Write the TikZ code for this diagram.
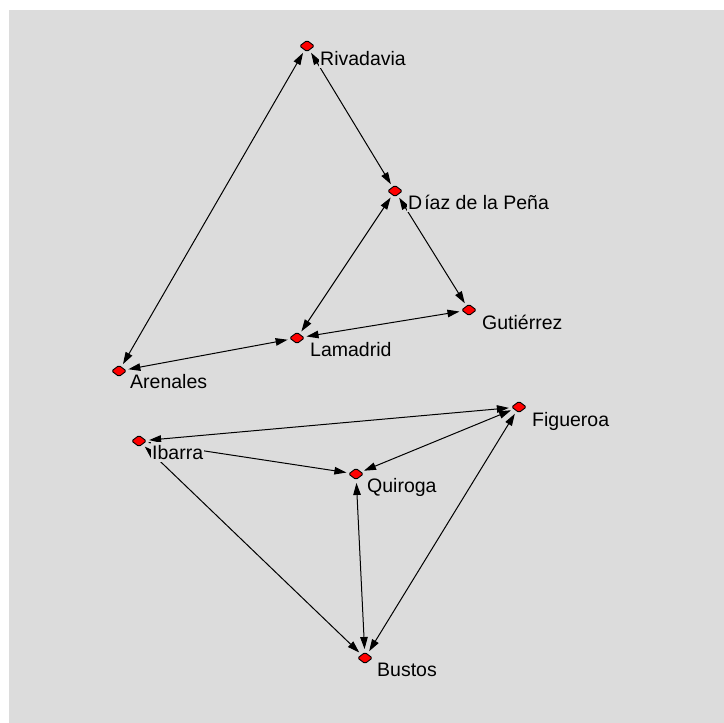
\documentclass[tikz,border=0pt]{standalone}
\usepackage{fontspec}
\setmainfont{Liberation Sans}
\usetikzlibrary{arrows.meta,shapes.geometric}
\definecolor{canvas}{HTML}{DCDCDC}
\definecolor{dotred}{HTML}{FF0000}
\pgfdeclarelayer{ties}
\pgfdeclarelayer{tags}
\pgfsetlayers{ties,tags,main}
\begin{document}
\begin{tikzpicture}[x=1pt,y=-1pt,
  actor/.style={diamond, draw=black, line width=0.9pt, fill=dotred,
    minimum width=15pt, minimum height=11.5pt, inner sep=0pt, rounded corners=1.5pt},
  tag/.style={anchor=base west, fill=canvas, inner xsep=1pt, inner ysep=3pt,
    font=\fontsize{19.5}{23}\selectfont},
  tie/.style={draw=black, line width=1pt, shorten >=3pt, shorten <=3pt},
  head/.tip={Triangle[length=12pt,width=7.5pt]},
  one/.style={tie, -head},
  both/.style={tie, head-head},
]
\useasboundingbox (0,0) rectangle (724,723);
\begin{pgfonlayer}{ties}
  \fill[white] (0,0) rectangle (724,723);
  \fill[canvas] (9,10) rectangle (724,723);
\end{pgfonlayer}

% actors
\node[actor] (riv) at (307,46)  {};
\node[actor] (dia) at (395,191) {};
\node[actor] (gut) at (469,310) {};
\node[actor] (lam) at (297,338) {};
\node[actor] (are) at (119,371) {};
\node[actor] (fig) at (519,407) {};
\node[actor] (iba) at (139,441) {};
\node[actor] (qui) at (356,474) {};
\node[actor] (bus) at (365,658) {};

% ties between actors
\begin{pgfonlayer}{ties}
  \draw[both] (riv) -- (are);
  \draw[both] (riv) -- (dia);
  \draw[both] (dia) -- (gut);
  \draw[both] (dia) -- (lam);
  \draw[both] (gut) -- (lam);
  \draw[both] (lam) -- (are);
  \draw[both] (iba) -- (fig);
  \draw[one]  (iba) -- (qui);
  \draw[both] (iba) -- (bus);
  \draw[both] (fig) -- (qui);
  \draw[both] (qui) -- (bus);
  \draw[both] (fig) -- (bus);
\end{pgfonlayer}

% actor names
\begin{pgfonlayer}{tags}
  \node[tag] (rivT) at ([shift={(12,19)}]riv.center) {Rivadavia};
  \node[tag] (diaT) at ([shift={(12,18)}]dia.center) {D\kern2pt íaz de la Peña};
  \node[tag] (gutT) at ([shift={(12,19)}]gut.center) {Gutiérrez};
  \node[tag] (lamT) at ([shift={(12,18)}]lam.center) {Lamadrid};
  \node[tag] (areT) at ([shift={(10,17)}]are.center) {Arenales};
  \node[tag] (figT) at ([shift={(12,19)}]fig.center) {Figueroa};
  \node[tag] (ibaT) at ([shift={(12,18)}]iba.center) {Ibarra};
  \node[tag] (quiT) at ([shift={(10,18)}]qui.center) {Quiroga};
  \node[tag] (busT) at ([shift={(11,18)}]bus.center) {Bustos};
\end{pgfonlayer}
\end{tikzpicture}
\end{document}
